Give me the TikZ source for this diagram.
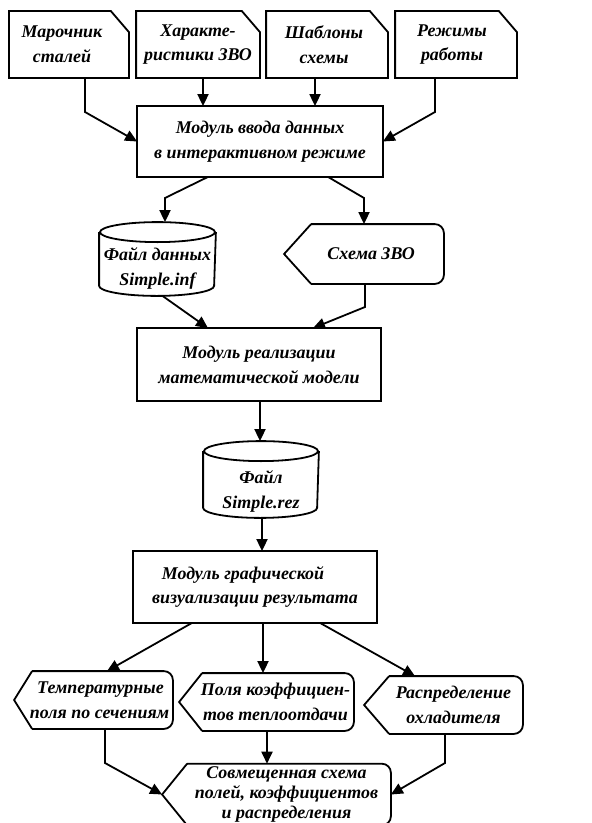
\documentclass[tikz,border=0pt]{standalone}
\usepackage{fontspec}
\setmainfont{Liberation Serif}
\usetikzlibrary{arrows.meta,calc}
\begin{document}
\begin{tikzpicture}[x=1bp,y=1bp,
  line width=1.8bp,
  every node/.style={font=\bfseries\itshape\fontsize{18}{25}\selectfont, align=center, inner sep=0pt},
  box/.style={minimum width=#1, draw=none},
  arr/.style={-{Triangle[length=12bp,width=11bp]}, line join=miter},
  lnk/.style={line join=miter}
]
\useasboundingbox (0,0) rectangle (592,-823);

% ---------- nodes (text + frames) ----------
\node[box=118bp, minimum height=65bp] (c1) at (69,-44.5) {Марочник\hspace*{14bp}\\сталей\hspace*{14bp}};
\node[box=122bp, minimum height=65bp] (c2) at (198,-44.5) {Характе-\\ристики ЗВО};
\node[box=120bp, minimum height=65bp] (c3) at (327,-44.5) {Шаблоны\hspace*{6bp}\\схемы\hspace*{6bp}};
\node[box=120bp, minimum height=65bp] (c4) at (456,-44.5) {Режимы\hspace*{8bp}\\работы\hspace*{8bp}};

\node[box=244bp, minimum height=69bp] (m1) at (260,-141.5) {Модуль ввода данных\\в интерактивном режиме};
\node[box=115bp, minimum height=72bp] (f1) at (157.5,-259) {\\[6bp]Файл данных\\Simple.inf};
\node[box=158bp, minimum height=58bp] (s1) at (364,-254) {\hspace*{14bp}Схема ЗВО};
\node[box=242bp, minimum height=71bp] (m2) at (259,-364.5) {Модуль реализации\\математической модели};
\node[box=114bp, minimum height=75bp] (f2) at (261,-479.5) {\\[12bp]Файл\\Simple.rez};
\node[box=242bp, minimum height=70bp] (m3) at (255,-587) {Модуль графической\hspace*{24bp}\\визуализации результата};

\node[box=157bp, minimum height=56bp] (t1) at (93.5,-700) {\hspace*{14bp}Температурные\\\hspace*{12bp}поля по сечениям};
\node[box=173bp, minimum height=56bp] (t2) at (266.5,-702) {\hspace*{18bp}Поля коэффициен-\\\hspace*{18bp}тов теплоотдачи};
\node[box=157bp, minimum height=56bp] (t3) at (443.5,-705) {\hspace*{20bp}Распределение\\\hspace*{20bp}охладителя};
\node[box=227bp, minimum height=55bp, align=none, font=\bfseries\itshape\fontsize{18}{20}\selectfont] (b1) at (276.5,-794.5)
  {\raisebox{-6bp}{\begin{tabular}{@{}c@{}}\hspace*{20bp}Совмещенная схема\\\hspace*{20bp}полей, коэффициентов\\\hspace*{20bp}и распределения\end{tabular}}};

% card frames (cut top-right corner)
\foreach \n in {c1,c2,c3,c4}{
  \draw[lnk] (\n.north west) -- ([xshift=-18bp]\n.north east) -- ([yshift=-21bp]\n.north east)
     -- (\n.south east) -- (\n.south west) -- cycle;
}
% plain boxes
\foreach \n in {m1,m2,m3}{
  \draw (\n.north west) rectangle (\n.south east);
}
% cylinders
\foreach \n/\r in {f1/57.5,f2/57}{
  \draw ([yshift=-10bp]\n.north west) -- ([yshift=10bp]\n.south west)
        arc[start angle=180,end angle=360,x radius=\r bp,y radius=10bp]
        -- ([yshift=-10bp]\n.north east);
  \draw ([yshift=-10bp]\n.north) ellipse[x radius=\r bp,y radius=10bp];
}
% display shapes (pointed left, rounded right)
\foreach \n/\o in {s1/27,t1/18,t2/23,t3/25,b1/25}{
  \draw[rounded corners=9bp] ([xshift=\o bp]\n.north west) -- (\n.north east) -- (\n.south east) -- ([xshift=\o bp]\n.south west);
  \draw[lnk] ([xshift=\o bp]\n.south west) -- (\n.west) -- ([xshift=\o bp]\n.north west);
}

% ---------- connectors ----------
\draw[arr] ([xshift=16bp]c1.south) -- ([xshift=16bp]c1.south |- 0,-112) -- (m1.west);
\draw[arr] ([xshift=5bp]c2.south) -- ([xshift=5bp]c2.south |- m1.north);
\draw[arr] ([xshift=-12bp]c3.south) -- ([xshift=-12bp]c3.south |- m1.north);
\draw[arr] ([xshift=-21bp]c4.south) -- ([xshift=-21bp]c4.south |- 0,-112) -- (m1.east);

\draw[arr] ([xshift=-52bp]m1.south) -- ([xshift=7.5bp]f1.north |- 0,-198) -- ([xshift=7.5bp]f1.north);
\draw[arr] ([xshift=68bp]m1.south) -- (s1.north |- 0,-198) -- (s1.north);

\draw[arr] ([xshift=5bp]f1.south) -- ([xshift=-51bp]m2.north);
\draw[arr] ([xshift=1bp]s1.south) -- ([xshift=1bp]s1.south |- 0,-307) -- ([xshift=54bp]m2.north);

\draw[arr] ([xshift=1bp]m2.south) -- ([xshift=1bp]m2.south |- f2.north);
\draw[arr] ([xshift=1bp]f2.south) -- ([xshift=1bp]f2.south |- m3.north);

\draw[arr] ([xshift=-63bp]m3.south) -- ([xshift=13.5bp]t1.north);
\draw[arr] ([xshift=8bp]m3.south) -- ([xshift=8bp]m3.south |- t2.north);
\draw[arr] ([xshift=65bp]m3.south) -- ([xshift=-28.5bp]t3.north);

\draw[arr] ([xshift=11.5bp]t1.south) -- ([xshift=11.5bp]t1.south |- 0,-763) -- (b1.west);
\draw[arr] ([xshift=0.5bp]t2.south) -- ([xshift=0.5bp]t2.south |- b1.north);
\draw[arr] ([xshift=1.5bp]t3.south) -- ([xshift=1.5bp]t3.south |- 0,-763) -- (b1.east);
\end{tikzpicture}
\end{document}
